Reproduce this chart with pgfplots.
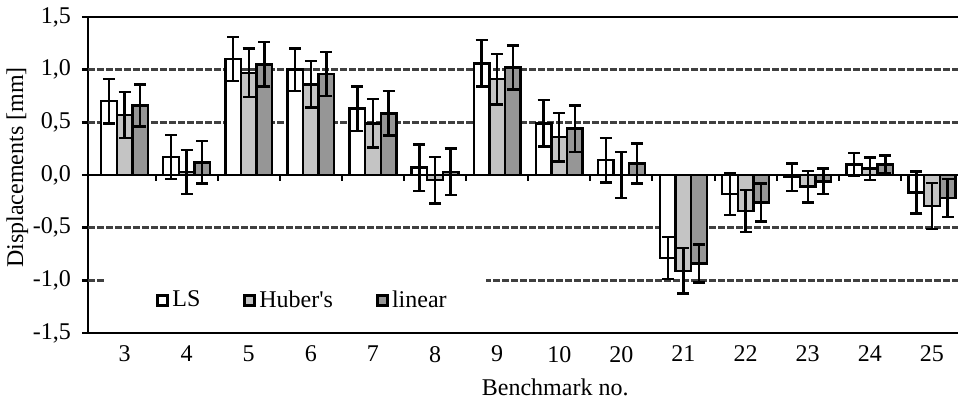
\documentclass[border=0pt]{standalone}
\usepackage{pgfplots}
\pgfplotsset{compat=1.18}
\usepackage{fontspec}
\setmainfont{Liberation Serif}
\definecolor{huber}{HTML}{C4C4C4}
\definecolor{lin}{HTML}{969696}
\definecolor{gridc}{HTML}{404040}
\begin{document}
\begin{tikzpicture}
\begin{axis}[
  scale only axis, width=435pt, height=158pt,
  xmin=-0.588, xmax=13.42, ymin=-1.5, ymax=1.5,
  separate axis lines,
  axis x line*=box, axis y line*=left,
  axis line style={line width=1.4pt},
  font=\fontsize{12}{14}\selectfont,
  xtick={0,1,2,3,4,5,6,7,8,9,10,11,12,13},
  xticklabels={3,4,5,6,7,8,9,10,20,21,22,23,24,25},
  xtick style={draw=none},
  ytick={-1.5,-1,-0.5,0,0.5,1,1.5},
  yticklabels={{-1,5},{-1,0},{-0,5},{0,0},{0,5},{1,0},{1,5}},
  ytick style={line width=1.2pt, black},
  tick align=outside, major tick length=3pt,
  yticklabel style={xshift=-2pt},
  extra y ticks={-1,-0.5,0.5,1},
  extra y tick labels={},
  extra y tick style={ymajorgrids=true, major tick length=0pt},
  major grid style={gridc, line width=1.3pt, dash pattern=on 3.5pt off 1pt},
  xlabel={Benchmark no.},
  ylabel={Displacements [mm]},
  xlabel style={at={(rel axis cs:0.537,-0.199)}, anchor=base},
  ylabel style={at={(rel axis cs:-0.0747,0.524)}, anchor=base},
  ybar=0pt, bar width=7.8pt,
  clip=false,
  legend columns=3,
  legend style={at={(axis cs:-0.298,-1.19)}, anchor=west, draw=none, fill=white,
    inner xsep=18pt, inner ysep=5pt,
    nodes={inner xsep=1.5pt, inner ysep=2pt},
    /tikz/every even column/.append style={column sep=13pt}},
  legend image code/.code={\path[draw=none, fill=none] (0pt,0pt) -- (7pt,0pt);
    \draw[#1, line width=1.5pt, draw=black] (7.75pt,-2.5pt) rectangle (12.75pt,2.5pt);},
  every axis plot/.append style={draw=black, line width=1.2pt},
  error bars/y dir=both, error bars/y explicit,
  error bars/error bar style={line width=1.2pt, black},
  error bars/error mark options={rotate=90, mark size=3pt, line width=1.2pt, black},
]
\addplot[fill=white, bar shift=-7.8pt] coordinates {
 (0,0.70) +- (0,0.21)
 (1,0.17) +- (0,0.21)
 (2,1.10) +- (0,0.21)
 (3,1.00) +- (0,0.20)
 (4,0.63) +- (0,0.21)
 (5,0.07) +- (0,0.22)
 (6,1.06) +- (0,0.22)
 (7,0.49) +- (0,0.22)
 (8,0.14) +- (0,0.21)
 (9,-0.79) +- (0,0.20)
 (10,-0.18) +- (0,0.20)
 (11,-0.02) +- (0,0.13)
 (12,0.10) +- (0,0.11)
 (13,-0.165) +- (0,0.20)
};
\addplot[fill=huber, bar shift=0pt] coordinates {
 (0,0.57) +- (0,0.22)
 (1,0.03) +- (0,0.21)
 (2,0.97) +- (0,0.23)
 (3,0.86) +- (0,0.22)
 (4,0.49) +- (0,0.23)
 (5,-0.05) +- (0,0.22)
 (6,0.91) +- (0,0.24)
 (7,0.36) +- (0,0.23)
 (8,0.00) +- (0,0.22)
 (9,-0.91) +- (0,0.215)
 (10,-0.34) +- (0,0.20)
 (11,-0.11) +- (0,0.15)
 (12,0.06) +- (0,0.105)
 (13,-0.295) +- (0,0.22)
};
\addplot[fill=lin, bar shift=7.8pt] coordinates {
 (0,0.66) +- (0,0.20)
 (1,0.12) +- (0,0.20)
 (2,1.05) +- (0,0.21)
 (3,0.96) +- (0,0.21)
 (4,0.585) +- (0,0.21)
 (5,0.03) +- (0,0.22)
 (6,1.02) +- (0,0.21)
 (7,0.44) +- (0,0.22)
 (8,0.11) +- (0,0.19)
 (9,-0.84) +- (0,0.18)
 (10,-0.26) +- (0,0.18)
 (11,-0.06) +- (0,0.12)
 (12,0.10) +- (0,0.085)
 (13,-0.22) +- (0,0.18)
};
\legend{LS,Huber\textquotesingle s,linear}
\draw[line width=0.9pt] (axis cs:-0.588,0) -- (axis cs:13.42,0);
\pgfplotsinvokeforeach{0.5,1.5,2.5,3.5,4.5,5.5,6.5,7.5,8.5,9.5,10.5,11.5,12.5}{
  \draw[line width=1pt] (axis cs:#1,0) -- (axis cs:#1,-0.055);
}
\coordinate (bl) at (rel axis cs:0,0);
\end{axis}
\pgfresetboundingbox
\path[use as bounding box] (bl) ++(-44pt,-33.5pt) rectangle ++(479pt,200pt);
\end{tikzpicture}
\end{document}
